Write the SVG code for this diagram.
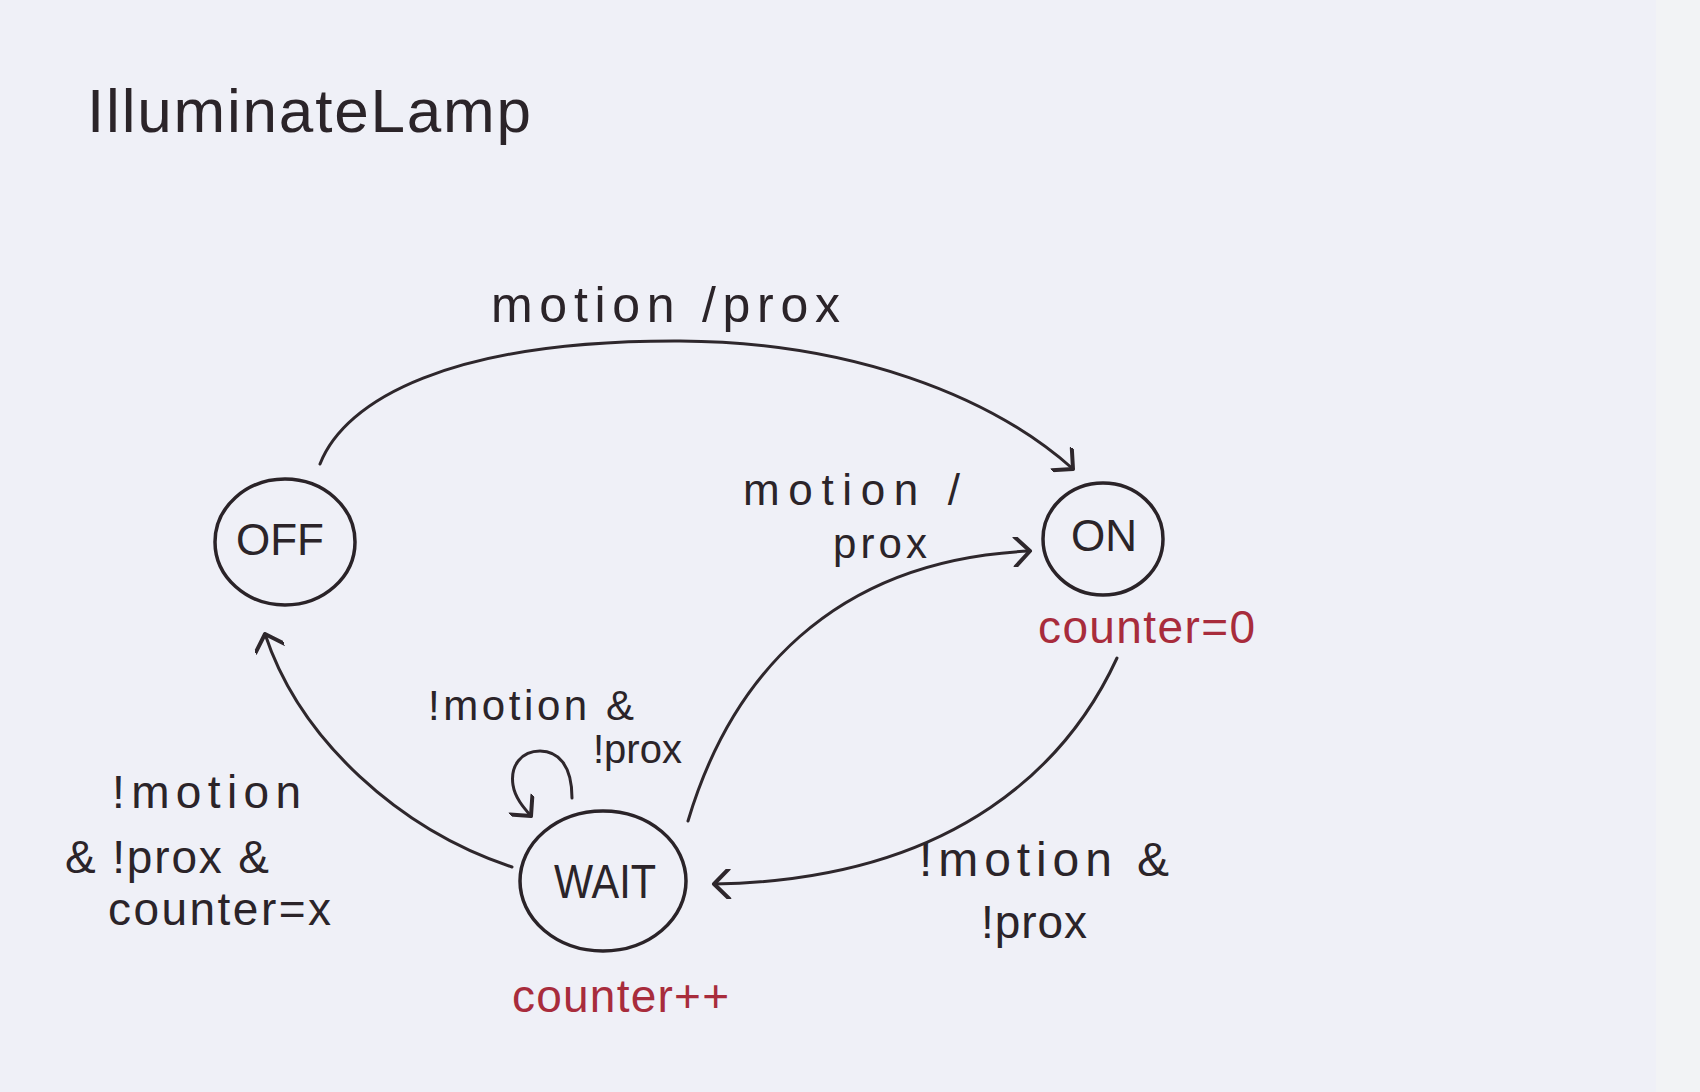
<svg xmlns="http://www.w3.org/2000/svg" width="1700" height="1092" viewBox="0 0 1700 1092">
<style>
.bg{fill:#eff0f7}
.strip{fill:#f2f3f5}
.node{fill:none;stroke:#2a2328;stroke-width:3.5}
.edge{fill:none;stroke:#2e272c;stroke-width:3;stroke-linecap:round}
.t{font-family:"Liberation Sans",Arial,sans-serif;fill:#2b2429}
.red{font-family:"Liberation Sans",Arial,sans-serif;fill:#a82c3c}
</style>
<defs>
<marker id="arr" viewBox="0 0 30 30" refX="25" refY="15" markerWidth="30" markerHeight="30" markerUnits="userSpaceOnUse" orient="auto">
<path d="M10,0 L25,15 L10,30" fill="none" stroke="#2e272c" stroke-width="4" stroke-linecap="round" stroke-linejoin="round"/>
</marker>
</defs>
<rect class="bg" x="0" y="0" width="1700" height="1092"/>
<rect class="strip" x="1656" y="0" width="44" height="1092"/>
<text class="t" x="87" y="132" font-size="62" textLength="444" lengthAdjust="spacing">IlluminateLamp</text>

<g id="connectors">
<g id="e-off-on">
<path class="edge" d="M320,464 C345,400 450,340 680,341 C850,342 990,395 1073,469" marker-end="url(#arr)"/>
<text class="t" x="491" y="322" font-size="50" textLength="349" lengthAdjust="spacing">motion /prox</text>
</g>
<g id="e-wait-on">
<path class="edge" d="M688,821 C730,680 830,560 1030,551" marker-end="url(#arr)"/>
<text class="t" x="743" y="505" font-size="44" textLength="217" lengthAdjust="spacing">motion /</text>
<text class="t" x="833" y="558" font-size="42" textLength="94" lengthAdjust="spacing">prox</text>
</g>
<g id="e-on-wait">
<path class="edge" d="M1117,658 C1070,760 960,880 714,884" marker-end="url(#arr)"/>
<text class="t" x="919" y="876" font-size="48" textLength="250" lengthAdjust="spacing">!motion &amp;</text>
<text class="t" x="981" y="938" font-size="46" textLength="106" lengthAdjust="spacing">!prox</text>
</g>
<g id="e-wait-off">
<path class="edge" d="M512,867 C400,830 300,740 265,634" marker-end="url(#arr)"/>
<text class="t" x="112" y="808" font-size="46" textLength="189" lengthAdjust="spacing">!motion</text>
<text class="t" x="65" y="873" font-size="46" textLength="204" lengthAdjust="spacing">&amp; !prox &amp;</text>
<text class="t" x="108" y="925" font-size="46" textLength="223" lengthAdjust="spacing">counter=x</text>
</g>
<g id="e-wait-wait">
<path class="edge" d="M572,798 C572,765 558,751 540,751 C522,751 510,765 513,785 C515,798 524,808 531,816" marker-end="url(#arr)"/>
<text class="t" x="428" y="720" font-size="42" textLength="206" lengthAdjust="spacing">!motion &amp;</text>
<text class="t" x="593" y="763" font-size="40">!prox</text>
</g>
</g>

<g id="node-off">
<ellipse class="node" cx="285" cy="542" rx="70" ry="63"/>
<text class="t" x="280" y="555" font-size="44" text-anchor="middle">OFF</text>
</g>
<g id="node-on">
<ellipse class="node" cx="1103" cy="539" rx="60" ry="56"/>
<text class="t" x="1104" y="551" font-size="44" text-anchor="middle">ON</text>
<text class="red" x="1038" y="643" font-size="46" textLength="217" lengthAdjust="spacing">counter=0</text>
</g>
<g id="node-wait">
<ellipse class="node" cx="603" cy="881" rx="83" ry="70"/>
<text class="t" x="605" y="898" font-size="48" text-anchor="middle" textLength="102" lengthAdjust="spacingAndGlyphs">WAIT</text>
<text class="red" x="512" y="1012" font-size="46" textLength="217" lengthAdjust="spacing">counter++</text>
</g>
</svg>
